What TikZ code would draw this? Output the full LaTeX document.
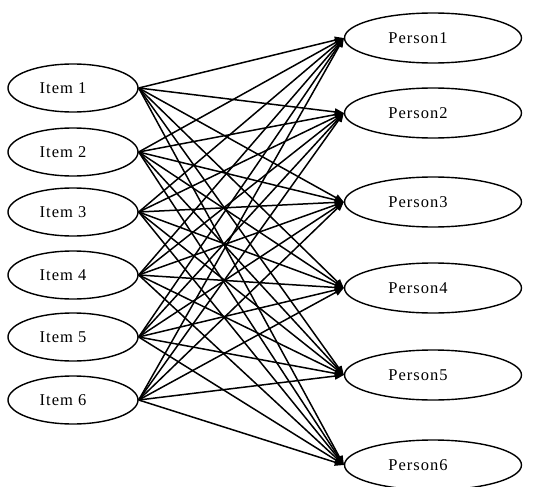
\documentclass[tikz,border=0pt]{standalone}
\usepackage{fontspec}
\setmainfont{Liberation Serif}
\newfontfamily\lblfont[LetterSpace=6]{Liberation Serif}
\usetikzlibrary{shapes.geometric,arrows.meta}
\begin{document}
\begin{tikzpicture}[x=1pt,y=-1pt,
  itembox/.style={draw,ellipse,line width=1.4pt,inner sep=0pt,minimum width=130pt,minimum height=48pt,font=\lblfont\fontsize{16.5}{18}\selectfont},
  personbox/.style={draw,ellipse,line width=1.4pt,inner sep=0pt,minimum width=177pt,minimum height=50pt,font=\lblfont\fontsize{16.5}{18}\selectfont},
  link/.style={line width=1.5pt,-{Triangle[length=9pt,width=7pt]}}]
\useasboundingbox (0,0) rectangle (546,487);
\node[itembox] (i1) at (73,88) {Item 1\kern20pt};
\node[itembox] (i2) at (73,152) {Item 2\kern20pt};
\node[itembox] (i3) at (73,212) {Item 3\kern20pt};
\node[itembox] (i4) at (73,275) {Item 4\kern20pt};
\node[itembox] (i5) at (73,337) {Item 5\kern20pt};
\node[itembox] (i6) at (73,400) {Item 6\kern20pt};
\node[personbox] (p1) at (433,38) {Person1\kern30pt};
\node[personbox] (p2) at (433,113) {Person2\kern30pt};
\node[personbox] (p3) at (433,202) {Person3\kern30pt};
\node[personbox] (p4) at (433,288) {Person4\kern30pt};
\node[personbox] (p5) at (433,375) {Person5\kern30pt};
\node[personbox] (p6) at (433,465) {Person6\kern30pt};
\foreach \i in {1,...,6}{
  \foreach \j in {1,...,6}{
    \draw[link] (i\i.east) -- (p\j.west);
  }
}
\end{tikzpicture}
\end{document}
